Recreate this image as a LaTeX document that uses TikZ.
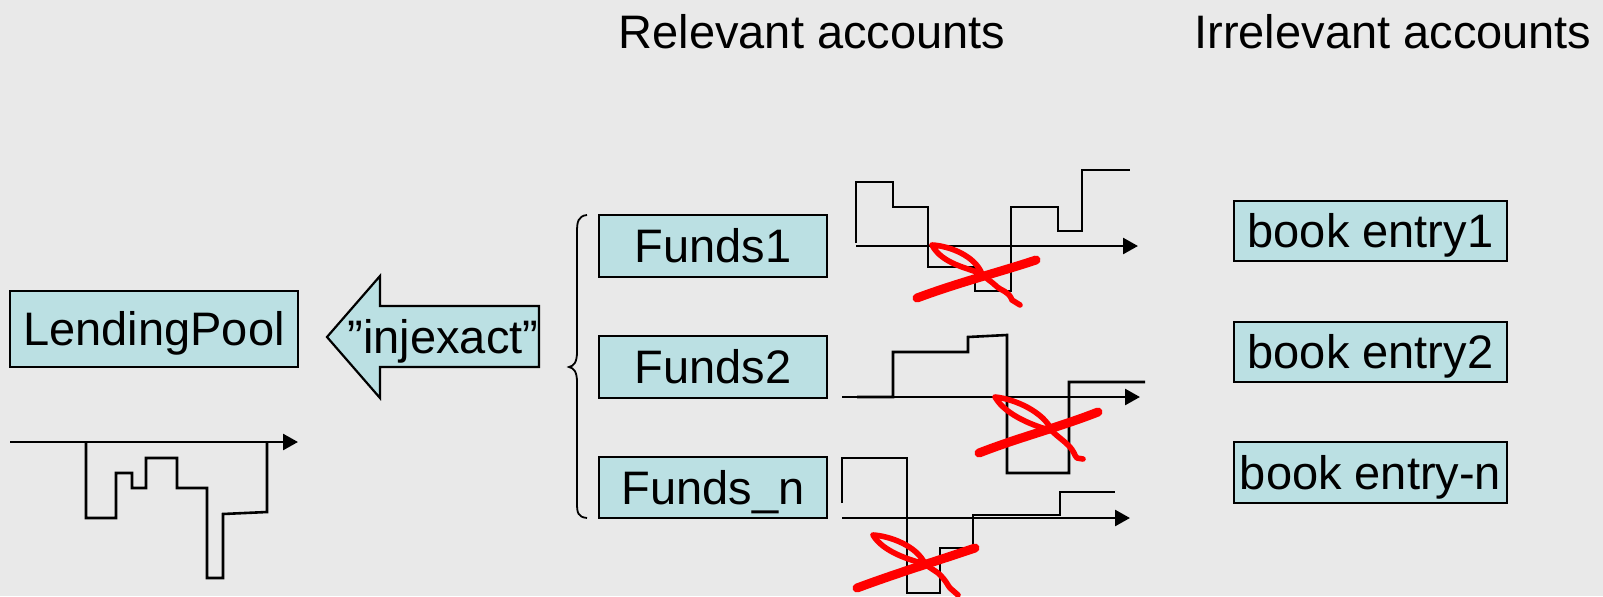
\documentclass[tikz,border=0pt]{standalone}
\usepackage{fontspec}
\setmainfont{Liberation Sans}
\usetikzlibrary{arrows.meta}
\definecolor{bg}{RGB}{233,233,233}
\definecolor{boxfill}{RGB}{187,224,227}
\begin{document}
\begin{tikzpicture}[x=0.5pt,y=-0.5pt,
  txt/.style={font=\fontsize{23.5}{28}\selectfont},
  box/.style={txt, draw=black, line width=1.1pt, fill=boxfill, inner sep=0pt,
    text height=16.8pt, text depth=0pt},
  chart/.style={line width=1.3pt, black, line join=miter},
  axis/.style={line width=1.3pt, black, -{Triangle[length=7.5pt,width=8pt]}},
  redmark/.style={red, line width=4.5pt, line cap=round, line join=round},
  redthin/.style={red, line width=2.8pt, line cap=round, line join=round}]
\useasboundingbox (0,0) rectangle (1603,596);
\fill[bg] (0,0) rectangle (1603,596);

% titles
\node[txt, anchor=base, inner sep=0pt] (rel) at (812,48) {Relevant accounts};
\node[txt, anchor=base, inner sep=0pt] (irr) at (1393,48) {Irrelevant accounts};

% boxes
\node[box, minimum width=144pt, minimum height=38pt] (lp) at (154,329) {LendingPool};
\node[box, minimum width=114pt, minimum height=31pt] (f1) at (713,246) {Funds1};
\node[box, minimum width=114pt, minimum height=31pt] (f2) at (713,367) {Funds2};
\node[box, minimum width=114pt, minimum height=30.5pt] (fn) at (713,487.5) {Funds\_n};
\node[box, minimum width=136.5pt, minimum height=30pt] (b1) at (1370.5,231) {book entry1};
\node[box, minimum width=136.5pt, minimum height=30pt] (b2) at (1370.5,352) {book entry2};
\node[box, minimum width=136.5pt, minimum height=30.5pt] (bn) at (1370.5,472.5) {book entry-n};

% injexact arrow
\draw[line width=1.1pt, fill=boxfill, line join=miter]
  (539,306) -- (380,306) -- (380,276) -- (327,337) -- (380,398) -- (380,367) -- (539,367) -- cycle;
\node[txt, inner sep=0pt, text height=16.8pt, text depth=0pt] (inj) at (443,337) {”injexact”};

% brace
\draw[line width=0.9pt]
  (587,215) .. controls (578,216) and (577,222) .. (577,232) -- (577,352)
  .. controls (577,362) and (574,366) .. (569,367)
  .. controls (574,368) and (577,372) .. (577,382) -- (577,503)
  .. controls (577,513) and (578,517) .. (587,518);

% left chart
\draw[axis] (10,442) -- (298,442);
\draw[chart] (86,442) -- (86,518) -- (116,518) -- (116,473) -- (132,473) -- (132,488)
  -- (146,488) -- (146,458) -- (177,458) -- (177,488) -- (207,488) -- (207,578)
  -- (223,578) -- (223,514) -- (267,512) -- (267,442);

% chart 1
\draw[axis] (856,246) -- (1138,246);
\draw[chart] (856,243) -- (856,182) -- (893,182) -- (893,207) -- (928,207) -- (928,267)
  -- (975,267) -- (975,291) -- (1011,291) -- (1011,207) -- (1058,207) -- (1058,231)
  -- (1082,231) -- (1082,170) -- (1130,170);

% chart 2
\draw[axis] (842,397) -- (1140,397);
\draw[chart] (857,397) -- (893,397) -- (893,352) -- (968,352) -- (968,337) -- (1007,335)
  -- (1007,473) -- (1069,473) -- (1069,382) -- (1145,382);

% chart 3
\draw[axis] (842,518) -- (1130,518);
\draw[chart] (842,503) -- (842,458) -- (907,458) -- (907,593) -- (940,593) -- (940,548)
  -- (973,548) -- (973,515) -- (1060,515) -- (1060,492) -- (1115,492);

% red crosses
\draw[redmark] (917,298) .. controls (960,282) and (1000,272) .. (1036,260);
\draw[redthin] (932,245) .. controls (950,246) and (975,256) .. (982,274)
  .. controls (968,268) and (942,264) .. (932,245);
\draw[redthin] (982,274) .. controls (988,280) and (992,282) .. (995,285)
  .. controls (1002,292) and (1008,290) .. (1012,300) -- (1020,305);

\draw[redmark] (979,453) .. controls (1020,437) and (1060,427) .. (1098,412);
\draw[redthin] (995,397) .. controls (1015,399) and (1044,412) .. (1052,431)
  .. controls (1035,426) and (1006,416) .. (995,397);
\draw[redthin] (1052,431) .. controls (1058,437) and (1063,440) .. (1068,445)
  .. controls (1075,452) and (1074,455) .. (1077,458) -- (1083,459);

\draw[redmark] (857,588) .. controls (900,572) and (940,560) .. (975,548);
\draw[redthin] (873,535) .. controls (890,536) and (917,546) .. (925,564)
  .. controls (910,560) and (883,552) .. (873,535);
\draw[redthin] (925,564) .. controls (930,568) and (934,570) .. (938,573)
  .. controls (946,580) and (948,586) .. (950,588) -- (958,595);
\end{tikzpicture}
\end{document}
